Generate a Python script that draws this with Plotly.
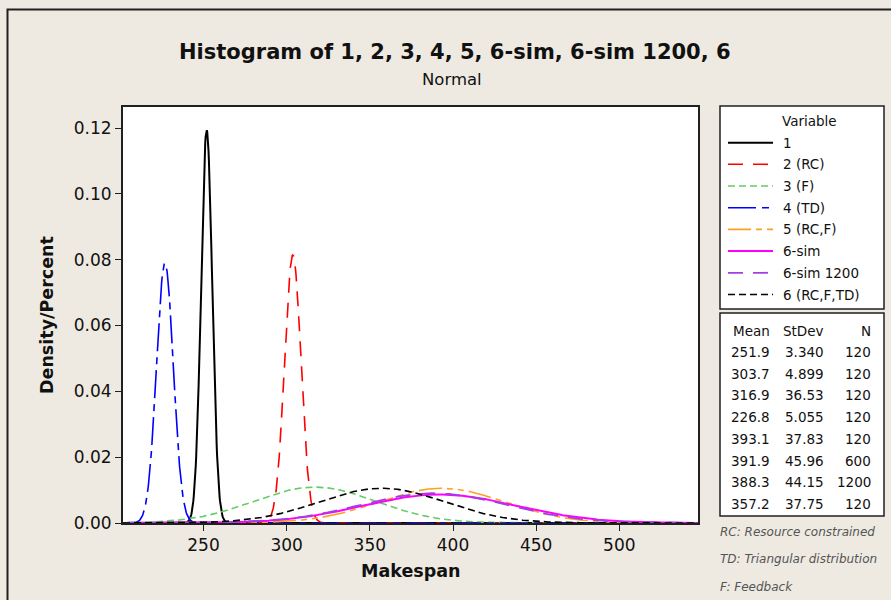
import numpy as np
import plotly.graph_objects as go

# Fitted normal distributions of makespan per variable
variables = ["1", "2 (RC)", "3 (F)", "4 (TD)", "5 (RC,F)", "6-sim", "6-sim 1200", "6 (RC,F,TD)"]
means = [251.9, 303.7, 316.9, 226.8, 393.1, 391.9, 388.3, 357.2]
stdevs = [3.340, 4.899, 36.53, 5.055, 37.83, 45.96, 44.15, 37.75]
counts = [120, 120, 120, 120, 120, 600, 1200, 120]

x_ticks = [250, 300, 350, 400, 450, 500]
y_ticks = [0.00, 0.02, 0.04, 0.06, 0.08, 0.10, 0.12]

colors = ["#000000", "#FF0000", "#66CC66", "#0000FF", "#FFA020", "#FF00FF", "#A040E0", "#000000"]
dashes = ["solid", "15px,10px", "7px,4px", "28px,6px,7px,6px",
          "23px,5px,6px,5px,6px,5px", "solid", "15px,10px", "7px,4px"]
widths = [2, 1.6, 1.6, 1.6, 1.6, 2, 1.8, 1.6]

X_RANGE = [201.6, 547.3]
Y_RANGE = [0, 0.1264]

# plot-area geometry in pixels
W, H = 891, 600
L, R, T, B = 123, 698, 107, 523


def px(x):
    return (x - L) / (R - L)


def py(y):
    return (B - y) / (B - T)


BG = "#EEEAE1"
FONT = "DejaVu Sans"
INK = "#111111"

fig = go.Figure()

xs = np.linspace(X_RANGE[0], X_RANGE[1], 1400)
for name, m, s, c, d, w in zip(variables, means, stdevs, colors, dashes, widths):
    ys = np.exp(-0.5 * ((xs - m) / s) ** 2) / (s * np.sqrt(2 * np.pi))
    fig.add_trace(go.Scatter(x=xs, y=ys, mode="lines", name=name,
                             line=dict(color=c, dash=d, width=w),
                             showlegend=False, hoverinfo="skip"))

shapes = []
annotations = []

# outer frame of the graph window
shapes.append(dict(type="rect", xref="paper", yref="paper",
                   x0=px(7.5), x1=px(905), y0=py(9.5), y1=py(610),
                   line=dict(color="#202020", width=2), fillcolor="rgba(0,0,0,0)", layer="below"))

# title and subtitle
annotations.append(dict(text="<b>Histogram of 1, 2, 3, 4, 5, 6-sim, 6-sim 1200, 6</b>",
                        x=px(455), y=py(52), xref="paper", yref="paper",
                        xanchor="center", yanchor="middle", showarrow=False,
                        font=dict(family=FONT, size=21, color=INK)))
annotations.append(dict(text="Normal", x=px(452), y=py(80), xref="paper", yref="paper",
                        xanchor="center", yanchor="middle", showarrow=False,
                        font=dict(family=FONT, size=16.5, color=INK)))

# axis titles
annotations.append(dict(text="<b>Makespan</b>", x=px(410.5), y=py(571), xref="paper", yref="paper",
                        xanchor="center", yanchor="middle", showarrow=False,
                        font=dict(family=FONT, size=17.5, color=INK)))
annotations.append(dict(text="<b>Density/Percent</b>", x=px(47), y=py(315), xref="paper", yref="paper",
                        xanchor="center", yanchor="middle", showarrow=False, textangle=-90,
                        font=dict(family=FONT, size=17.5, color=INK)))

# legend box
shapes.append(dict(type="rect", xref="paper", yref="paper",
                   x0=px(720), x1=px(884), y0=py(106), y1=py(309),
                   line=dict(color="#202020", width=1.5), fillcolor="white"))
annotations.append(dict(text="Variable", x=px(809), y=py(121), xref="paper", yref="paper",
                        xanchor="center", yanchor="middle", showarrow=False,
                        font=dict(family=FONT, size=13.5, color=INK)))
row_y = [142.7, 164.3, 186, 207.7, 229.4, 251.1, 272.8, 294.5]
for name, c, d, w, yy in zip(variables, colors, dashes, widths, row_y):
    shapes.append(dict(type="line", xref="paper", yref="paper",
                       x0=px(728), x1=px(773), y0=py(yy), y1=py(yy),
                       line=dict(color=c, dash=d, width=w)))
    annotations.append(dict(text=name, x=px(781), y=py(yy), xref="paper", yref="paper",
                            xanchor="left", yanchor="middle", showarrow=False,
                            font=dict(family=FONT, size=13.5, color=INK)))

# summary statistics box
shapes.append(dict(type="rect", xref="paper", yref="paper",
                   x0=px(720), x1=px(884), y0=py(313), y1=py(516),
                   line=dict(color="#202020", width=1.5), fillcolor="white"))
col_right = [772, 826, 873]
headers = ["Mean", "StDev", "N"]
stat_y = [331, 352, 373.7, 395.4, 417.1, 438.8, 460.5, 482.2, 503.9]
for hdr, cx in zip(headers, col_right):
    annotations.append(dict(text=hdr, x=px(cx), y=py(stat_y[0]), xref="paper", yref="paper",
                            xanchor="right", yanchor="middle", showarrow=False,
                            font=dict(family=FONT, size=13.5, color=INK)))
for m, s, n, yy in zip(means, stdevs, counts, stat_y[1:]):
    for txt, cx in zip([f"{m:.1f}", f"{s:#.4g}", f"{n}"], col_right):
        annotations.append(dict(text=txt, x=px(cx), y=py(yy), xref="paper", yref="paper",
                                xanchor="right", yanchor="middle", showarrow=False,
                                font=dict(family=FONT, size=13.5, color=INK)))

# footnotes
notes = ["RC: Resource constrained", "TD: Triangular distribution", "F: Feedback"]
for txt, yy in zip(notes, [532, 559, 587]):
    annotations.append(dict(text=f"<i>{txt}</i>", x=px(718), y=py(yy), xref="paper", yref="paper",
                            xanchor="left", yanchor="middle", showarrow=False,
                            font=dict(family=FONT, size=12, color="#555555")))

axis_common = dict(showline=True, mirror=True, linecolor="#202020", linewidth=2,
                   ticks="outside", ticklen=6, tickwidth=1, tickcolor="#202020",
                   showgrid=False, zeroline=False,
                   tickfont=dict(family=FONT, size=17, color=INK))

fig.update_layout(
    width=W, height=H,
    margin=dict(l=L, r=W - R, t=T, b=H - B),
    paper_bgcolor=BG, plot_bgcolor="white",
    xaxis=dict(range=X_RANGE, tickvals=x_ticks, **axis_common),
    yaxis=dict(range=Y_RANGE, tickvals=y_ticks, tickformat=".2f", **axis_common),
    shapes=shapes, annotations=annotations,
)

fig.write_html("out.html")
